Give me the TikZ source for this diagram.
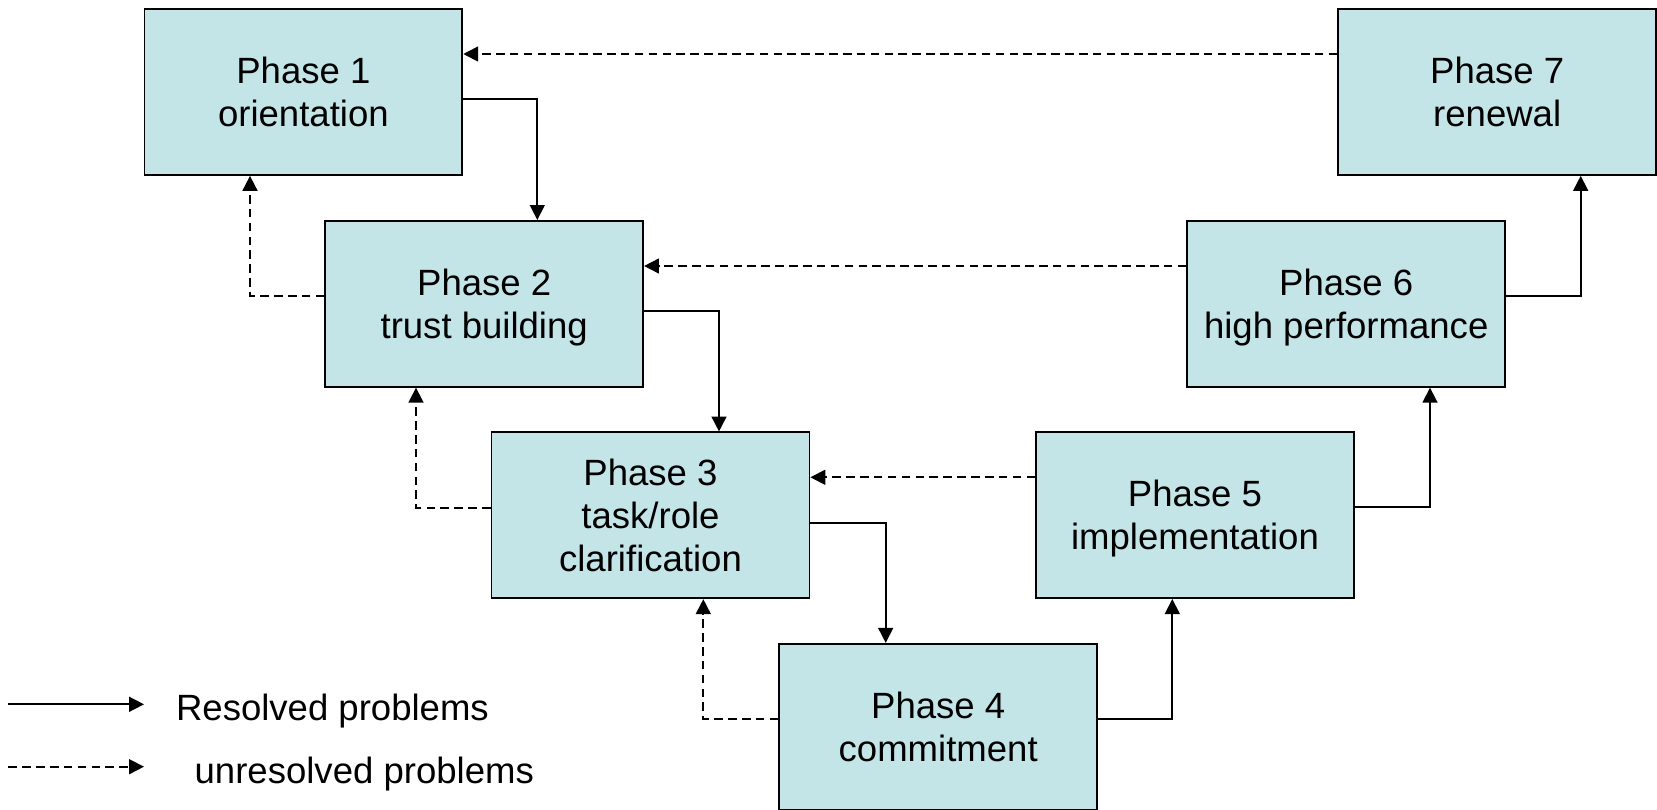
\documentclass[tikz,border=0pt]{standalone}
\usepackage{fontspec}
\setmainfont{Liberation Sans}
\usetikzlibrary{arrows.meta}
\definecolor{boxfill}{RGB}{196,229,232}
\tikzset{
  phasebox/.style={draw=black, line width=1pt, fill=boxfill, rectangle,
    minimum width=6.36cm, minimum height=3.32cm, align=center, inner sep=0pt,
    text depth=0pt, font=\fontsize{20.8}{24.5}\selectfont},
  res/.style={draw=black, line width=0.95pt, -{Triangle[length=8.5pt,width=8.5pt]}},
  unres/.style={res, dash pattern=on 4.9pt off 3pt},
  legtext/.style={anchor=base west, inner sep=0pt, font=\fontsize{20.8}{24.5}\selectfont}
}
\begin{document}
\begin{tikzpicture}[x=0.02cm, y=-0.02cm]
\useasboundingbox (0,0) rectangle (1657,809);

\node[phasebox] (P1) at (303.4,92)    {Phase 1\\orientation};
\node[phasebox] (P2) at (484.2,303.8) {Phase 2\\trust building};
\node[phasebox] (P3) at (650.5,515.3) {Phase 3\\task/role\\clarification};
\node[phasebox] (P4) at (938.2,726.7) {Phase 4\\commitment};
\node[phasebox] (P5) at (1195,515.2)  {Phase 5\\implementation};
\node[phasebox] (P6) at (1346.2,303.8){Phase 6\\high performance};
\node[phasebox] (P7) at (1497.2,92)   {Phase 7\\renewal};

% resolved (solid)
\draw[res] (P1.east |- 0,99)    -| (P2.north -| 537.3,0);
\draw[res] (P2.east |- 0,311.3) -| (P3.north -| 719,0);
\draw[res] (P3.east |- 0,523)   -| (P4.north -| 885.7,0);
\draw[res] (P4.east |- 0,719.3) -| (P5.south -| 1172.3,0);
\draw[res] (P5.east |- 0,507.3) -| (P6.south -| 1430,0);
\draw[res] (P6.east |- 0,295.7) -| (P7.south -| 1580.7,0);

% unresolved (dashed)
\draw[unres] (P2.west |- 0,295.7) -| (P1.south -| 250,0);
\draw[unres] (P3.west |- 0,507.7) -| (P2.south -| 416,0);
\draw[unres] (P4.west |- 0,719.3) -| (P3.south -| 703.3,0);
\draw[unres] (P7.west |- 0,54)    -- (P1.east |- 0,54);
\draw[unres] (P6.west |- 0,266)   -- (P2.east |- 0,266);
\draw[unres] (P5.west |- 0,477.3) -- (P3.east |- 0,477.3);

% legend
\coordinate (La) at (8.3,704.3);
\coordinate (Lb) at (144,704.3);
\coordinate (Lc) at (8.3,766.7);
\coordinate (Ld) at (144,766.7);
\draw[res] (La) -- (Lb);
\draw[unres] (Lc) -- (Ld);
\node[legtext] (T1) at (175.7,720.7) {Resolved problems};
\node[legtext] (T2) at (194.3,783.3) {unresolved problems};
\end{tikzpicture}
\end{document}
